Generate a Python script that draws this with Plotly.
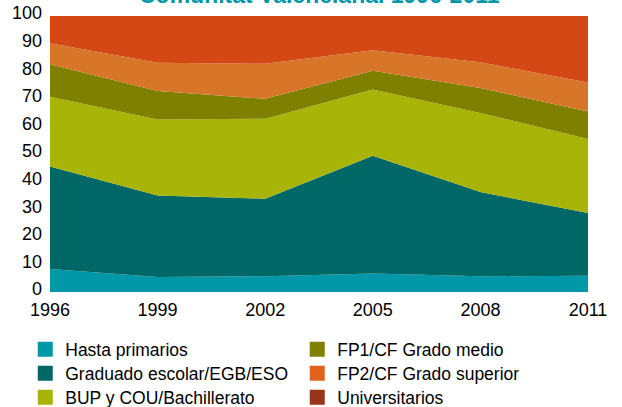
import plotly.graph_objects as go

years = [1996, 1999, 2002, 2005, 2008, 2011]
series_names = ["Hasta primarios", "Graduado escolar/EGB/ESO", "BUP y COU/Bachillerato",
                "FP1/CF Grado medio", "FP2/CF Grado superior", "Universitarios"]
hasta = [8.3, 5.4, 5.7, 6.7, 5.7, 5.9]
graduado = [37.2, 29.6, 28.1, 42.7, 30.5, 22.7]
bup = [25.2, 27.5, 29.0, 24.0, 28.7, 26.8]
fp1 = [11.8, 10.3, 7.2, 6.8, 9.0, 10.0]
fp2 = [7.6, 10.3, 12.7, 7.4, 9.3, 10.5]
univ = [9.9, 16.9, 17.3, 12.4, 16.8, 24.1]
values = [hasta, graduado, bup, fp1, fp2, univ]
x_ticks = [1996, 1999, 2002, 2005, 2008, 2011]
y_ticks = list(range(0, 101, 10))

fill_colors = ["#0098a8", "#006767", "#a8b407", "#7f7f00", "#d77629", "#d34815"]
legend_colors = ["#0098a8", "#006767", "#a8b407", "#7f7f00", "#e2611d", "#9b3519"]

fig = go.Figure()
for name, vals, col in zip(series_names, values, fill_colors):
    fig.add_trace(go.Scatter(x=years, y=vals, name=name, stackgroup="one",
                             mode="lines", line=dict(width=0, color=col),
                             fillcolor=col, showlegend=False, hoverinfo="skip"))

# legend rows: (left column, right column)
legend_rows = [(0, 3), (1, 4), (2, 5)]
legend_ids = ["legend", "legend2", "legend3"]
for lid, row in zip(legend_ids, legend_rows):
    for i in row:
        fig.add_trace(go.Scatter(x=[None], y=[None], name=series_names[i], mode="markers",
                                 marker=dict(symbol="square", size=15, color=legend_colors[i]),
                                 showlegend=True, legend=lid))

fig.add_annotation(text="<b>Comunitat Valenciana. 1996-2011</b>", xref="paper", yref="paper",
                   x=0.5, y=1.077, xanchor="center", yanchor="middle", showarrow=False,
                   font=dict(family="Liberation Sans, Arial", size=23, color="#0096a8"))

legend_common = dict(orientation="h", x=-0.046, xanchor="left", yanchor="top",
                     entrywidth=227, entrywidthmode="pixels", font=dict(size=17.5),
                     traceorder="normal", bgcolor="rgba(0,0,0,0)")

fig.update_layout(
    width=622, height=407,
    margin=dict(l=50, r=34, t=16, b=115, autoexpand=False),
    paper_bgcolor="white", plot_bgcolor="white",
    font=dict(family="Liberation Sans, Arial", size=18, color="black"),
    xaxis=dict(range=[1996, 2011], tickvals=x_ticks, ticks="", showgrid=False,
               zeroline=False, showline=False, ticklabelstandoff=5,
               tickfont=dict(size=18)),
    yaxis=dict(range=[0, 100], tickvals=y_ticks, ticks="", showgrid=False,
               zeroline=False, showline=False, ticklabelstandoff=7, ticklabelshift=-3,
               tickfont=dict(size=18)),
    legend=dict(legend_common, y=-0.143),
    legend2=dict(legend_common, y=-0.230),
    legend3=dict(legend_common, y=-0.317),
    showlegend=True,
)

fig.write_html("out.html", config={"displayModeBar": False},
               post_script="document.body.style.margin='0';")
